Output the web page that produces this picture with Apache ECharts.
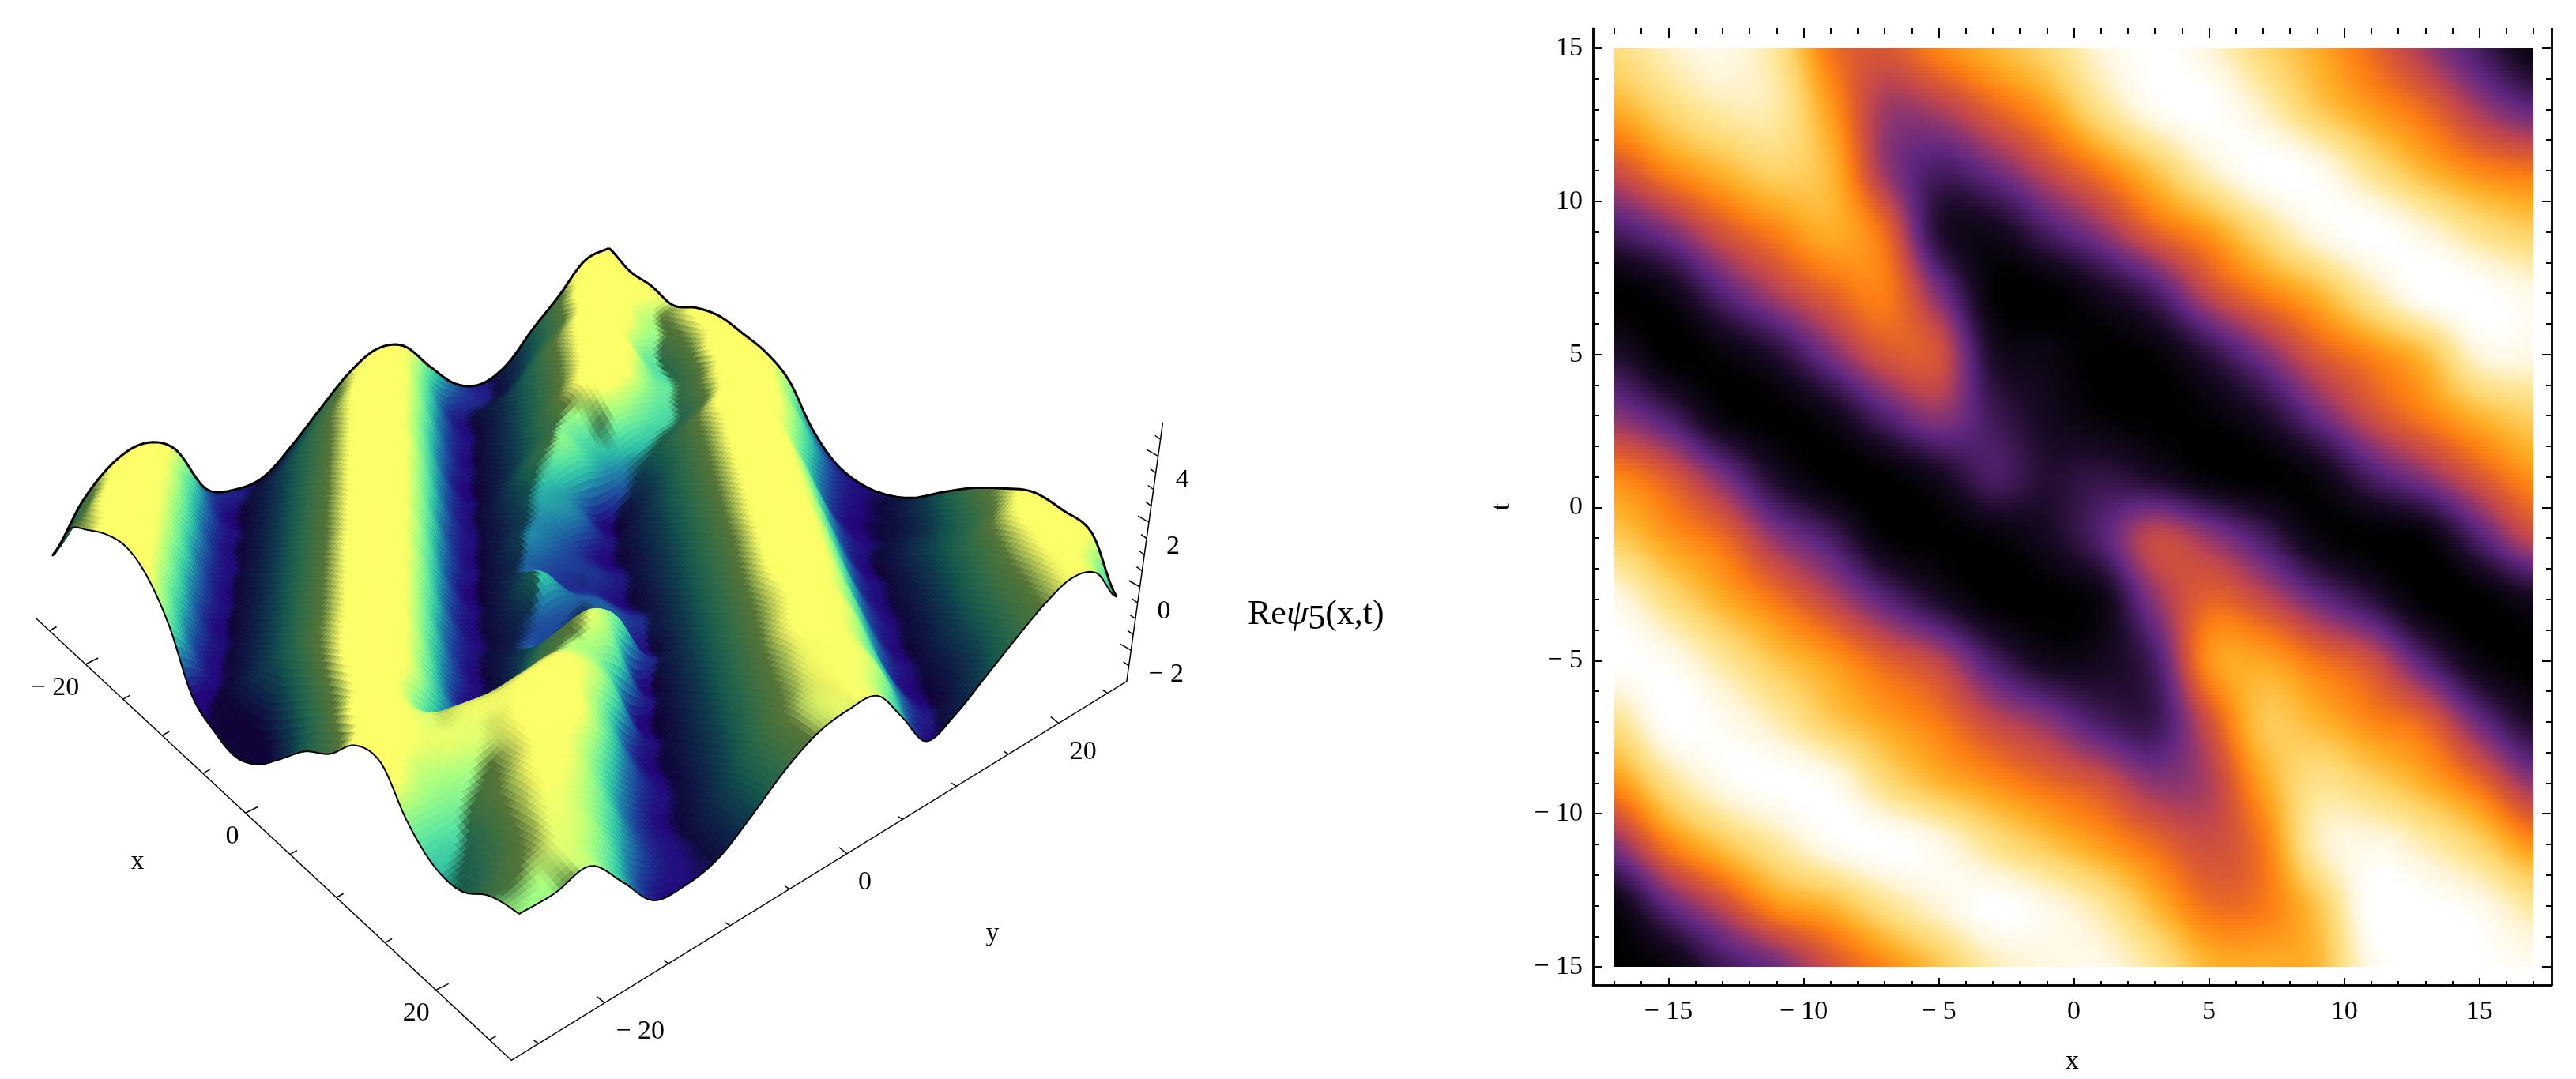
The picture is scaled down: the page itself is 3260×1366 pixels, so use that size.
<!DOCTYPE html>
<html lang="en">
<head>
    <meta charset="UTF-8">
    <title>Re psi5</title>
    <script src="https://cdn.jsdelivr.net/npm/echarts@6/dist/echarts.min.js"></script>
    <style type="text/css">
        html, body { margin: 0; padding: 0; background: #fff; }
        #main { width: 3260px; height: 1366px; }
    </style>
</head>
<body>
<div id="main"></div>
<script type="text/javascript">
    // density plot, values (0 black .. 1 white)
    const heatX = [-17, -15, -13, -11, -9, -7, -5, -3, -1, 1, 3, 5, 7, 9, 11, 13, 15, 17];
    const heatT = [15, 13, 11, 9, 7, 5, 3, 1, -1, -3, -5, -7, -9, -11, -13, -15];
    const heatValues = [
        [.80, .90, .95, .84, .54, .47, .58, .68, .78, .93, 1, .93, .78, .66, .52, .36, .2, .04],
        [.66, .78, .87, .86, .62, .36, .38, .5, .62, .82, .97, 1, .9, .74, .62, .52, .36, .25],
        [.44, .58, .68, .76, .68, .35, .2, .28, .42, .56, .72, .9, 1, .97, .82, .68, .58, .54],
        [.2, .3, .46, .57, .66, .52, .12, .07, .2, .33, .5, .62, .8, .95, 1, .93, .82, .75],
        [0, .05, .23, .38, .5, .56, .3, .02, 0, .08, .2, .42, .56, .68, .86, 1, 1, .95],
        [.12, 0, .03, .12, .3, .46, .45, .1, .05, 0, .02, .14, .3, .47, .58, .7, .93, .95],
        [.32, .2, .03, 0, .06, .22, .33, .18, .08, .02, 0, .02, .1, .27, .44, .56, .68, .76],
        [.58, .48, .3, .1, 0, 0, .08, .2, .12, .15, .1, .02, 0, .04, .2, .32, .47, .6],
        [.74, .62, .52, .33, .2, .02, 0, .02, .08, .22, .42, .34, .2, .04, 0, .02, .22, .42],
        [.95, .8, .66, .54, .4, .24, .1, 0, 0, .05, .33, .5, .42, .27, .14, 0, 0, .08],
        [1, .97, .85, .72, .62, .5, .4, .2, .07, .08, .2, .6, .64, .54, .44, .22, .04, 0],
        [.82, 1, .97, .88, .74, .64, .55, .42, .33, .2, .17, .45, .72, .68, .58, .5, .27, .1],
        [.6, .82, .96, 1, .97, .8, .68, .6, .52, .45, .33, .38, .64, .82, .76, .66, .52, .33],
        [.32, .56, .72, .85, .97, 1, .95, .82, .72, .62, .52, .44, .55, .88, .95, .88, .76, .6],
        [.04, .25, .42, .6, .68, .82, .93, 1, .95, .85, .68, .53, .55, .72, 1, 1, .96, .85],
        [0, .03, .18, .28, .45, .58, .72, .88, .94, .95, .84, .68, .66, .68, .96, 1, 1, .97]
    ];
    const heatColors = [[0, '#000000'], [.1, '#1a0a26'], [.25, '#5f2680'], [.33, '#8a3570'], [.4, '#bc4450'], [.48, '#dc5a30'],
        [.56, '#fd7d12'], [.66, '#ffae26'], [.76, '#ffd468'], [.85, '#ffe79a'], [.93, '#fff6dc'], [1, '#ffffff']];
    const heatMajorX = [-15, -10, -5, 0, 5, 10, 15];
    const heatMinorX = [-17, -16, -14, -13, -12, -11, -9, -8, -7, -6, -4, -3, -2, -1, 1, 2, 3, 4, 6, 7, 8, 9, 11, 12, 13, 14, 16, 17];
    const heatMajorT = [-15, -10, -5, 0, 5, 10, 15];
    const heatMinorT = [-14, -13, -12, -11, -9, -8, -7, -6, -4, -3, -2, -1, 1, 2, 3, 4, 6, 7, 8, 9, 11, 12, 13, 14];

    // surface heights, one row per x, one column per y
    const surfaceX = [-26, -23.4, -20.8, -18.2, -15.6, -13, -10.4, -7.8, -5.2, -2.6, 0, 2.6, 5.2, 7.8, 10.4, 13, 15.6, 18.2, 20.8, 23.4, 26];
    const surfaceY = [-26, -23.4, -20.8, -18.2, -15.6, -13, -10.4, -7.8, -5.2, -2.6, 0, 2.6, 5.2, 7.8, 10.4, 13, 15.6, 18.2, 20.8, 23.4, 26];
    const surfaceZ = [
        [-.9, .45, 1.28, 1.5, .9, -.85, -1.3, -1.28, -.6, .25, 1.05, 1.48, 1.2, .1, -.9, -1.3, -1, -.1, .7, 1.6, 1.7],
        [.5, 1.15, 1.5, 1.15, -.2, -1.42, -1.2, -.5, .27, .97, 1.43, 1.37, .27, -1.15, -1.2, -1.15, -.35, .45, 1.35, 1.5, 1.3],
        [1, 1.45, 1.3, .2, -1.2, -1.34, -.7, .08, .82, 1.38, 1.47, .6, -.85, -1.42, -.93, -.15, .62, 1.2, 1.5, 1.25, 1.2],
        [1.38, 1.45, .55, -.95, -1.42, -.88, -.1, .67, 1.27, 1.5, .85, -.55, -1.43, -1.08, -.35, .43, 1.1, 1.47, 1.25, .7, .95],
        [1.5, .85, -.62, -1.44, -1.05, -.3, .48, 1.15, 1.48, 1.18, -.15, -1.4, -1.23, -.53, .24, .95, 1.42, 1.4, .32, .6, 1.3],
        [1.1, -.25, -1.42, -1.2, -.48, .3, 1, 1.43, 1.35, .25, -1.17, -1.35, -.73, .05, .8, 1.35, 1.42, .63, .1, .9, 1.45],
        [.14, -1.25, -1.33, -.68, .1, .83, 1.36, 1.45, .6, -.9, -1.42, -.8, .1, .48, .1, .68, .45, .2, .5, 1.42, 1.3],
        [-1.4, -1.42, -.87, -.08, .68, 1.28, 1.5, .9, -.56, -1.44, -1.08, -.4, -.3, -.2, -.44, -.2, -.04, .22, 1.18, 1.5, 1.1],
        [-1.9, -1.03, -.28, .5, 1.15, 1.48, 1.15, -.18, -1.42, -1.22, -.52, -.6, -.6, -1.45, -1.03, -.28, .5, 1.15, 1.48, 1.3, .6],
        [-2.1, -.9, .31, 1.01, 1.44, 1.32, .2, -1.2, -1.35, -.7, -.9, -1, -1.4, -1.22, -.53, .25, .96, 1.42, 1.42, .7, -.5],
        [-1.7, -.3, .85, 1.37, 1.46, .52, -.94, -1.41, -.9, -.12, -1.1, -1.12, -1.37, -.78, 0, .75, 1.33, 1.5, .75, -.2, -1.2],
        [-.9, .35, 1.3, 1.5, .87, -.6, -1.44, -1.05, -.9, -.9, -.8, -1.45, -1, -.25, .53, 1.17, 1.5, 1.1, -.25, -1.1, -1.42],
        [-.05, .9, 1.49, 1.15, -.2, -1.42, -1.15, -.4, -.9, -.5, -.9, -1.2, -.5, .28, 1, 1.43, 1.36, .27, -1.17, -1.45, -1.3],
        [.5, 1.45, 1.17, .01, -.82, -.64, 0, .58, .9, .2, -1.37, -.75, .03, .77, 1.35, 1.48, .7, -.78, -1.45, -1.3, -.9],
        [1.38, 1.46, 1, 1, .9, 1, 1.07, .7, .3, -1.4, -1, -.22, .56, 1.2, 1.5, 1.08, -.3, -1.43, -1.2, -.9, -.2],
        [1.5, .9, 1, 1, 1.2, 1.3, 1.1, .3, -1.43, -1.2, -.47, .32, 1, 1.44, 1.32, .2, -1.2, -1.34, -.7, -.3, .45],
        [.5, .45, .55, 1, 1.3, 1.25, .2, -1.2, -1.35, -.72, .06, .8, 1.2, 1.3, .63, -.85, -1.43, -.95, -.18, .3, .95],
        [-.1, .05, .8, 1.2, 1.05, .2, -.85, -1.43, -.95, -.18, .6, 1.15, 1.3, 1, -.37, -1.43, -1.15, -.42, .35, 1.05, 1.35],
        [-.15, .4, 1, 1, .4, -.8, -1.43, -1.17, -.44, .34, .95, 1.15, 1.1, .14, -1.25, -1.33, -.68, .1, .83, 1.25, 1.3],
        [.4, .8, 1, .6, -.5, -1.25, -1.33, -.68, .1, .8, 1.05, 1.15, .75, -.65, -1.45, -1.03, -.27, .5, 1.05, 1.25, 1.1],
        [.6, .6, .8, -.2, -1.3, -1.42, -1.2, -.5, .3, .85, 1.03, .95, -.2, -1.42, -1.1, -.45, .2, .8, 1.15, .85, -.35]
    ];
    const surfaceColors = [[0, '#22067a'], [.15, '#1d3f98'], [.3, '#2080a8'], [.42, '#2ec0a8'], [.55, '#60e8a0'], [.7, '#a8ff80'], [.85, '#f8ff68'], [1, '#ffff68']];

    const boxX = [-27, 27];
    const boxY = [-27, 27];
    const boxZ = [-3, 5];
    const axisTicksXY = [-25, -20, -15, -10, -5, 0, 5, 10, 15, 20, 25];
    const axisLabelsXY = [-20, 0, 20];
    const axisTicksZ = [-2.5, -2, -1.5, -1, -.5, 0, .5, 1, 1.5, 2, 2.5, 3, 3.5, 4, 4.5];
    const axisLabelsZ = [-2, 0, 2, 4];

    const serif = '"Liberation Serif", "DejaVu Serif", serif';

    function hexRgb(hex) {
        return [parseInt(hex.substr(1, 2), 16), parseInt(hex.substr(3, 2), 16), parseInt(hex.substr(5, 2), 16)];
    }

    function rampColor(ramp, v, shade) {
        v = Math.max(0, Math.min(1, v));
        let k = 0;
        while (k < ramp.length - 2 && v > ramp[k + 1][0]) k++;
        const a = hexRgb(ramp[k][1]), b = hexRgb(ramp[k + 1][1]);
        const f = (v - ramp[k][0]) / (ramp[k + 1][0] - ramp[k][0]);
        const s = shade === undefined ? 1 : shade;
        return 'rgb(' + Math.round((a[0] + (b[0] - a[0]) * f) * s) + ',' + Math.round((a[1] + (b[1] - a[1]) * f) * s) + ',' + Math.round((a[2] + (b[2] - a[2]) * f) * s) + ')';
    }

    // smooth shading between the table nodes
    function cubic(p0, p1, p2, p3, f) {
        return p1 + 0.5 * f * (p2 - p0 + f * (2 * p0 - 5 * p1 + 4 * p2 - p3 + f * (3 * (p1 - p2) + p3 - p0)));
    }

    function sampleTable(table, r, c) {
        const nr = table.length, nc = table[0].length;
        const r0 = Math.min(Math.floor(r), nr - 2), c0 = Math.min(Math.floor(c), nc - 2);
        const fr = r - r0, fc = c - c0;
        const col = [];
        for (let k = -1; k <= 2; k++) {
            const row = table[Math.max(0, Math.min(nr - 1, r0 + k))];
            col.push(cubic(row[Math.max(0, c0 - 1)], row[c0], row[c0 + 1], row[Math.min(nc - 1, c0 + 2)], fc));
        }
        return cubic(col[0], col[1], col[2], col[3], fr);
    }

    // camera of the 3D box, gives page pixels
    function project(x, y, z) {
        const h = z + 3.15;
        const w = 1 - 0.004 * x + 0.003 * y - 0.005 * h;
        return [(8.86 * x + 15.96 * y - 1.8 * h + 716.4) / w, (5.28 * x - 4.61 * y - 42.5 * h + 827) / w];
    }

    const SUB = 7;
    const fineZ = [];
    for (let a = 0; a <= (surfaceX.length - 1) * SUB; a++) {
        const line = [];
        for (let b = 0; b <= (surfaceY.length - 1) * SUB; b++) {
            line.push(sampleTable(surfaceZ, a / SUB, b / SUB));
        }
        fineZ.push(line);
    }
    const fineStep = (surfaceX[1] - surfaceX[0]) / SUB;

    function fineX(a) { return surfaceX[0] + a * fineStep; }
    function fineY(b) { return surfaceY[0] + b * fineStep; }

    function surfaceCell(a, b) {
        const zm = (fineZ[a][b] + fineZ[a + 1][b] + fineZ[a][b + 1] + fineZ[a + 1][b + 1]) / 4;
        const dzx = (fineZ[a + 1][b] + fineZ[a + 1][b + 1] - fineZ[a][b] - fineZ[a][b + 1]) / (2 * fineStep);
        const dzy = (fineZ[a][b + 1] + fineZ[a + 1][b + 1] - fineZ[a][b] - fineZ[a + 1][b]) / (2 * fineStep);
        const slope = dzx * 0.49 + dzy * 0.87;
        const level = (zm + 1.45) / 3.0;
        const bright = Math.max(0, Math.min(1, (level - 0.74) / 0.14));
        const dark = Math.max(0, Math.min(1, slope / 0.15)) * (1 - bright);
        return rampColor(surfaceColors, level, 1 - 0.55 * dark);
    }

    function renderSurface(params, api) {
        const i = api.value(2), j = api.value(3);
        const children = [];
        for (let p = 0; p < SUB; p++) {
            for (let q = SUB - 1; q >= 0; q--) {
                const a = i * SUB + p, b = j * SUB + q;
                const pts = [[a, b], [a + 1, b], [a + 1, b + 1], [a, b + 1]].map(function (n) {
                    return api.coord(project(fineX(n[0]), fineY(n[1]), fineZ[n[0]][n[1]]));
                });
                const color = surfaceCell(a, b);
                children.push({
                    type: 'polygon',
                    shape: {points: pts},
                    silent: true,
                    style: {fill: color, stroke: color, lineWidth: 1}
                });
            }
        }
        return {type: 'group', children: children};
    }

    function edgeLine(api, points, width) {
        return {
            type: 'polyline',
            shape: {points: points.map(function (p) { return api.coord(project(p[0], p[1], p[2])); })},
            silent: true,
            style: {fill: 'none', stroke: '#000', lineWidth: width}
        };
    }

    function renderEdges(params, api) {
        const last = fineZ.length - 1;
        const back = [], right = [], front = [], left = [];
        for (let n = 0; n <= last; n++) {
            back.push([fineX(0), fineY(n), fineZ[0][n]]);
            right.push([fineX(n), fineY(last), fineZ[n][last]]);
            front.push([fineX(last), fineY(n), fineZ[last][n]]);
            left.push([fineX(n), fineY(0), fineZ[n][0]]);
        }
        return {type: 'group', children: [edgeLine(api, left, 2), edgeLine(api, front, 2), edgeLine(api, back, 3), edgeLine(api, right, 3)]};
    }

    function tickLine(api, p, dx, dy) {
        const s = api.coord(p), e = api.coord([p[0] + dx, p[1] + dy]);
        return {type: 'line', shape: {x1: s[0], y1: s[1], x2: e[0], y2: e[1]}, silent: true, style: {stroke: '#000', lineWidth: 1.5}};
    }

    function tickText(api, p, value, dx, dy, align) {
        const c = api.coord(p);
        return {
            type: 'text',
            silent: true,
            style: {
                x: c[0] + dx, y: c[1] + dy,
                text: (value < 0 ? '\u2212 ' : '') + Math.abs(value),
                fill: '#000', font: '34px ' + serif, textAlign: align, textVerticalAlign: 'middle'
            }
        };
    }

    function renderBoxAxes(params, api) {
        const out = [];
        out.push(edgeLine(api, [[boxX[0], boxY[0], boxZ[0]], [boxX[1], boxY[0], boxZ[0]], [boxX[1], boxY[1], boxZ[0]], [boxX[1], boxY[1], boxZ[1]]], 1.5));
        axisTicksXY.forEach(function (v) {
            const big = axisLabelsXY.indexOf(v) >= 0;
            const px = project(v, boxY[0], boxZ[0]);
            out.push(big ? tickLine(api, px, 16, -8) : tickLine(api, px, 9, -5));
            const py = project(boxX[1], v, boxZ[0]);
            out.push(big ? tickLine(api, py, -10, -8) : tickLine(api, py, -6, -4));
            if (big) {
                out.push(tickText(api, px, v, -8, 30, 'right'));
                out.push(tickText(api, py, v, 14, 36, 'left'));
            }
        });
        axisTicksZ.forEach(function (v) {
            const big = axisLabelsZ.indexOf(v) >= 0;
            const p = project(boxX[1], boxY[1], v);
            out.push(big ? tickLine(api, p, -14, -8) : tickLine(api, p, -7, -5));
            if (big) out.push(tickText(api, p, v, 22, 31, 'left'));
        });
        const names = [['x', 174, 1091], ['y', 1256, 1182]];
        names.forEach(function (n) {
            const c = api.coord([n[1], n[2]]);
            out.push({type: 'text', silent: true, style: {x: c[0], y: c[1], text: n[0], fill: '#000', font: '34px ' + serif, textAlign: 'center', textVerticalAlign: 'middle'}});
        });
        const lab = api.coord([1579, 778]);
        out.push({
            type: 'text',
            silent: true,
            style: {
                x: lab[0], y: lab[1],
                text: '{a|Re}{b|\u03c8}{c|5}{a|(x,t)}',
                textVerticalAlign: 'middle',
                rich: {
                    a: {font: '44px ' + serif, fill: '#000'},
                    b: {font: 'italic 44px ' + serif, fill: '#000'},
                    c: {font: '44px ' + serif, fill: '#000', padding: [12, 0, 0, 0]}
                }
            }
        });
        return {type: 'group', children: out};
    }

    function renderHeat(params, api) {
        const i = api.value(2), j = api.value(3);
        const tl = api.coord([heatX[i], heatT[j]]), br = api.coord([heatX[i + 1], heatT[j + 1]]);
        const left = Math.round(tl[0]), right = Math.round(br[0]), top = Math.round(tl[1]), bottom = Math.round(br[1]);
        const strips = Math.round((bottom - top) / 4);
        const children = [];
        for (let k = 0; k < strips; k++) {
            const y0 = top + Math.round((bottom - top) * k / strips), y1 = top + Math.round((bottom - top) * (k + 1) / strips);
            const stops = [];
            for (let s = 0; s <= 8; s++) {
                stops.push({offset: s / 8, color: rampColor(heatColors, sampleTable(heatValues, j + (k + 0.5) / strips, i + s / 8))});
            }
            children.push({
                type: 'rect',
                silent: true,
                shape: {x: left, y: y0, width: right - left, height: y1 - y0},
                style: {fill: new echarts.graphic.LinearGradient(0, 0, 1, 0, stops)}
            });
        }
        return {type: 'group', children: children};
    }

    function tickLabel(v) {
        return v < 0 ? '\u2212 ' + Math.abs(v) : '' + v;
    }

    function densityAxis(position, values, len, withLine, withLabel, name) {
        const vertical = position === 'left' || position === 'right';
        const axis = {
            gridIndex: 1,
            type: 'value',
            position: position,
            min: vertical ? -15.59 : -17.79,
            max: vertical ? 15.64 : 17.67,
            splitLine: {show: false},
            axisLine: {show: withLine, onZero: false, lineStyle: {color: '#000', width: 2.5}},
            axisTick: {show: true, inside: true, length: len, customValues: values, lineStyle: {color: '#000', width: 2}},
            axisLabel: {show: withLabel, color: '#000', fontFamily: serif, fontSize: 34, margin: vertical ? 13 : 17, customValues: values, formatter: tickLabel}
        };
        if (name) {
            axis.name = name;
            axis.nameLocation = 'middle';
            axis.nameGap = vertical ? 98 : 80;
            axis.nameTextStyle = {color: '#000', fontFamily: serif, fontSize: 34};
            if (vertical) axis.nameRotate = 90;
        }
        return axis;
    }

    const surfaceData = [];
    for (let i = 0; i < surfaceX.length - 1; i++) {
        for (let j = surfaceY.length - 2; j >= 0; j--) {
            surfaceData.push([1, 1, i, j]);
        }
    }
    const heatData = [];
    for (let j = 0; j < heatT.length - 1; j++) {
        for (let i = 0; i < heatX.length - 1; i++) {
            heatData.push([heatX[i], heatT[j], i, j]);
        }
    }

    const myChart = echarts.init(document.getElementById('main'), null, {renderer: 'canvas'});
    myChart.setOption({
        animation: false,
        backgroundColor: '#fff',
        grid: [
            {left: 0, top: 0, width: 3260, height: 1366},
            {left: 2016, top: 36, width: 1213, height: 1211}
        ],
        xAxis: [
            {gridIndex: 0, type: 'value', min: 0, max: 3260, show: false},
            densityAxis('bottom', heatMajorX, 9, true, true, 'x'),
            densityAxis('bottom', heatMinorX, 5, true, false),
            densityAxis('top', heatMajorX, 12, false, false),
            densityAxis('top', heatMinorX, 7, false, false)
        ],
        yAxis: [
            {gridIndex: 0, type: 'value', min: 0, max: 1366, inverse: true, show: false},
            densityAxis('left', heatMajorT, 12, true, true, 't'),
            densityAxis('left', heatMinorT, 8, true, false),
            densityAxis('right', heatMajorT, 12, true, false),
            densityAxis('right', heatMinorT, 7, true, false)
        ],
        series: [
            {type: 'custom', xAxisIndex: 0, yAxisIndex: 0, coordinateSystem: 'cartesian2d', clip: false, silent: true, progressive: 0, data: [[1, 1]], renderItem: renderBoxAxes, encode: {x: 0, y: 1}},
            {type: 'custom', xAxisIndex: 0, yAxisIndex: 0, coordinateSystem: 'cartesian2d', clip: false, silent: true, progressive: 0, data: surfaceData, renderItem: renderSurface, encode: {x: 0, y: 1}},
            {type: 'custom', xAxisIndex: 0, yAxisIndex: 0, coordinateSystem: 'cartesian2d', clip: false, silent: true, progressive: 0, data: [[1, 1]], renderItem: renderEdges, encode: {x: 0, y: 1}},
            {type: 'custom', xAxisIndex: 1, yAxisIndex: 1, coordinateSystem: 'cartesian2d', clip: false, silent: true, progressive: 0, data: heatData, renderItem: renderHeat, encode: {x: 0, y: 1}}
        ]
    });
</script>
</body>
</html>
